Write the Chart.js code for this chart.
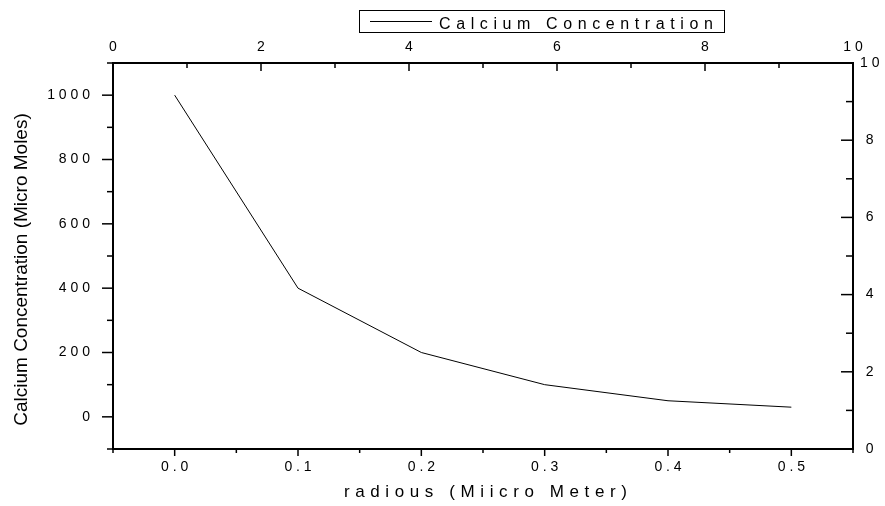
<!DOCTYPE html>
<html>
<head>
<meta charset="utf-8">
<script src="https://cdn.jsdelivr.net/npm/chart.js@4.4.1/dist/chart.umd.min.js"></script>
<style>
  html, body { margin: 0; padding: 0; background: #fff; }
  #wrap { width: 885px; height: 506px; position: relative; }
</style>
</head>
<body>
<div id="wrap"><canvas id="calciumChart"></canvas></div>
<script>
// --- Data ---
const radius = [0.0, 0.1, 0.2, 0.3, 0.4, 0.5];     // micro meter
const calcium = [1000, 400, 200, 100, 50, 30];    // micro moles
const seriesName = 'Calcium Concentration';

// labelled tick values of each axis (the rest are minor ticks)
const bottomTicks = [0.0, 0.1, 0.2, 0.3, 0.4, 0.5];
const leftTicks = [0, 200, 400, 600, 800, 1000];
const topTicks = [0, 2, 4, 6, 8, 10];
const rightTicks = [0, 2, 4, 6, 8, 10];

const xTitle = 'radious (Miicro Meter)';
const yTitle = 'Calcium Concentration (Micro Moles)';

const FONT = "'Liberation Sans', Arial, Helvetica, sans-serif";

// returns the labelled tick matching value, or undefined for a minor tick
function findMajor(list, value) {
  const step = Math.abs(list[1] - list[0]);
  return list.find(v => Math.abs(v - value) < step * 1e-6);
}

// Origin style spaced digits: "1000" -> "1 0 0 0"
function spaced(str) {
  return str.split('').join(' ');
}

function tickLabel(list, digits) {
  return function (value) {
    const m = findMajor(list, value);
    return m === undefined ? '' : spaced(m.toFixed(digits));
  };
}

// draw text one character at a time with extra gap
function drawSpaced(ctx, text, x, y, gap) {
  for (const ch of text) {
    ctx.fillText(ch, x, y);
    x += ctx.measureText(ch).width + gap;
  }
}

// tick marks: bottom/left point outward, top/right point inward
const tickLen = {
  x:  { major: 7,  minor: 4, dir: 1 },
  y:  { major: 11, minor: 6, dir: -1 },
  x2: { major: 8,  minor: 5, dir: 1 },
  y2: { major: 12, minor: 7, dir: -1 }
};
const majorLists = { x: bottomTicks, y: leftTicks, x2: topTicks, y2: rightTicks };

const originDecor = {
  id: 'originDecor',
  afterDraw(chart) {
    const ctx = chart.ctx;
    const area = chart.chartArea;
    ctx.save();
    ctx.strokeStyle = '#000';
    ctx.lineWidth = 1.5;
    Object.keys(tickLen).forEach(id => {
      const scale = chart.scales[id];
      const t = tickLen[id];
      scale.ticks.forEach(tk => {
        const len = findMajor(majorLists[id], tk.value) === undefined ? t.minor : t.major;
        const p = scale.getPixelForValue(tk.value);
        ctx.beginPath();
        if (scale.isHorizontal()) {
          const y0 = id === 'x' ? area.bottom : area.top;
          ctx.moveTo(p, y0);
          ctx.lineTo(p, y0 + t.dir * len);
        } else {
          const x0 = id === 'y' ? area.left : area.right;
          ctx.moveTo(x0, p);
          ctx.lineTo(x0 + t.dir * len, p);
        }
        ctx.stroke();
      });
    });

    ctx.fillStyle = '#000';
    ctx.textBaseline = 'alphabetic';

    // x axis title
    ctx.font = '17px ' + FONT;
    ctx.textAlign = 'left';
    drawSpaced(ctx, xTitle, 344, 497, 5.6);

    // y axis title
    ctx.save();
    ctx.translate(27, 269.5);
    ctx.rotate(-Math.PI / 2);
    ctx.font = '19px ' + FONT;
    ctx.textAlign = 'center';
    ctx.fillText(yTitle, 0, 0);
    ctx.restore();

    // legend box
    ctx.lineWidth = 1;
    ctx.strokeRect(359.5, 10.5, 365, 22);
    ctx.beginPath();
    ctx.moveTo(370, 21.5);
    ctx.lineTo(432, 21.5);
    ctx.stroke();
    ctx.font = '16px ' + FONT;
    ctx.textAlign = 'left';
    drawSpaced(ctx, seriesName, 439, 28.5, 5.6);
    ctx.restore();
  }
};

const axisBorder = { display: true, color: '#000', width: 2 };
const tickFont = { family: FONT, size: 14 };

const ctx = document.getElementById('calciumChart').getContext('2d');
const calciumChart = new Chart(ctx, {
  type: 'line',
  data: {
    datasets: [{
      label: seriesName,
      data: radius.map((r, i) => ({ x: r, y: calcium[i] })),
      xAxisID: 'x',
      yAxisID: 'y',
      borderColor: '#000',
      borderWidth: 1,
      pointRadius: 0,
      tension: 0,
      fill: false
    }]
  },
  options: {
    responsive: true,
    maintainAspectRatio: false,
    animation: false,
    devicePixelRatio: 1,
    layout: { padding: 0 },
    plugins: {
      legend: { display: false },
      tooltip: { enabled: false }
    },
    scales: {
      x: {
        type: 'linear', position: 'bottom', min: -0.05, max: 0.55,
        grid: { display: false, drawTicks: false },
        border: axisBorder,
        ticks: { stepSize: 0.05, autoSkip: false, maxRotation: 0, padding: 10,
                 color: '#000', font: tickFont, callback: tickLabel(bottomTicks, 1) },
        afterFit: s => { s.height = 57; }
      },
      y: {
        type: 'linear', position: 'left', min: -100, max: 1100,
        grid: { display: false, drawTicks: false },
        border: axisBorder,
        ticks: { stepSize: 100, autoSkip: false, padding: 23,
                 color: '#000', font: tickFont, callback: tickLabel(leftTicks, 0) },
        afterFit: s => { s.width = 113; }
      },
      x2: {
        type: 'linear', position: 'top', min: 0, max: 10,
        grid: { display: false, drawTicks: false },
        border: axisBorder,
        ticks: { stepSize: 1, autoSkip: false, maxRotation: 0, padding: 7,
                 color: '#000', font: tickFont, callback: tickLabel(topTicks, 0) },
        afterFit: s => { s.height = 63; }
      },
      y2: {
        type: 'linear', position: 'right', min: 0, max: 10,
        grid: { display: false, drawTicks: false },
        border: axisBorder,
        ticks: { stepSize: 1, autoSkip: false, padding: 7, crossAlign: 'center',
                 color: '#000', font: tickFont, callback: tickLabel(rightTicks, 0) },
        afterFit: s => { s.width = 32; }
      }
    }
  },
  plugins: [originDecor]
});
</script>
</body>
</html>
